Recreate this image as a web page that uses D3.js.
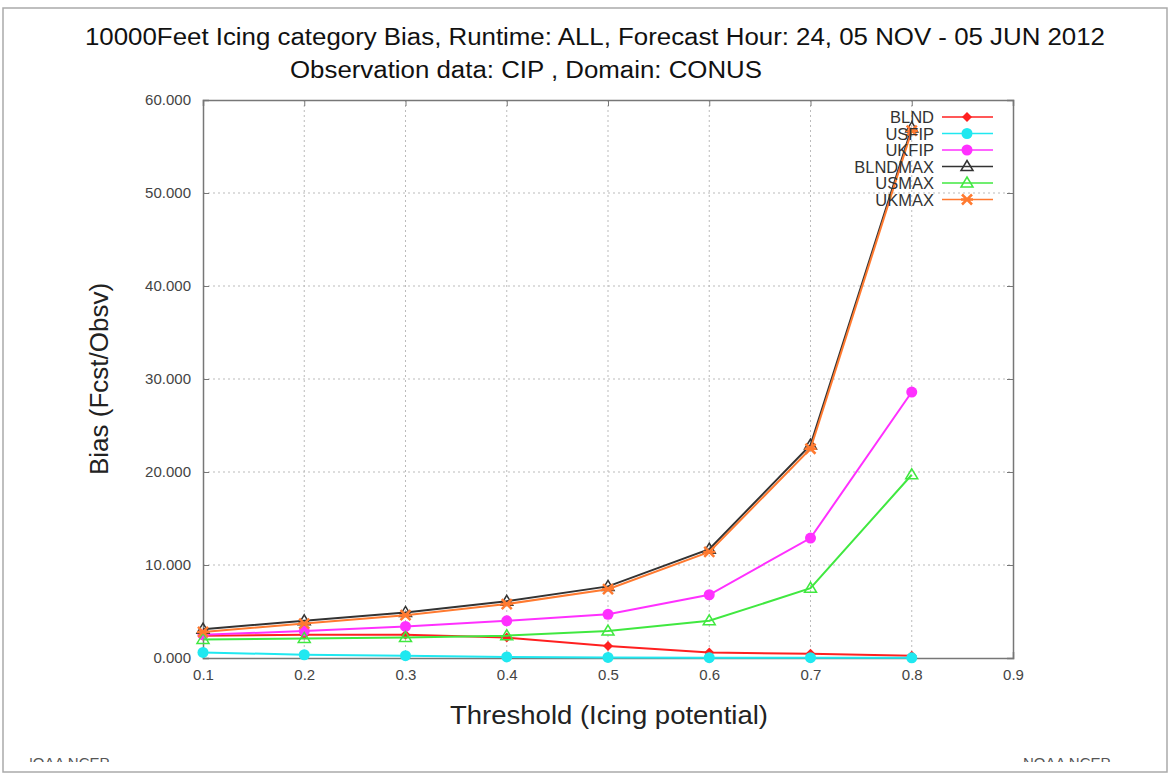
<!DOCTYPE html>
<html>
<head>
<meta charset="utf-8">
<script src="https://cdn.jsdelivr.net/npm/d3@7"></script>
<style>
  body { margin: 0; background: #fff; }
  text { font-family: "Liberation Sans", Arial, sans-serif; }
</style>
</head>
<body>
<div id="chart"></div>
<script>
// Thresholds (x values)
var thresholds = [0.1, 0.2, 0.3, 0.4, 0.5, 0.6, 0.7, 0.8];

// Series values
var blnd    = [2.4, 2.5, 2.5, 2.2, 1.3, 0.6, 0.45, 0.25];
var usfip   = [0.6, 0.35, 0.25, 0.12, 0.06, 0.04, 0.03, 0.02];
var ukfip   = [2.5, 2.9, 3.4, 4.0, 4.7, 6.8, 12.9, 28.6];
var blndmax = [3.1, 4.0, 4.9, 6.1, 7.7, 11.7, 22.9, 57.0];
var usmax   = [2.0, 2.1, 2.2, 2.4, 2.9, 4.0, 7.5, 19.7];
var ukmax   = [2.8, 3.7, 4.6, 5.8, 7.4, 11.4, 22.5, 56.7];

var seriesNames = ["BLND", "USFIP", "UKFIP", "BLNDMAX", "USMAX", "UKMAX"];
var seriesColors = ["#ff2020", "#20e8f0", "#ff30ff", "#333333", "#40e840", "#ff7a30"];
var seriesMarkers = ["diamond", "circle", "circle", "triangle", "triangle", "cross"];

var xTicks = [0.1, 0.2, 0.3, 0.4, 0.5, 0.6, 0.7, 0.8, 0.9];
var yTicks = [0, 10, 20, 30, 40, 50, 60];

var svgWidth = 1172;
var svgHeight = 776;

var margin = { top: 100, right: 159, bottom: 118, left: 203 };
var chartWidth = svgWidth - margin.left - margin.right;
var chartHeight = svgHeight - margin.top - margin.bottom;

var svg = d3.select("#chart")
  .append("svg")
  .attr("width", svgWidth)
  .attr("height", svgHeight);

// page frame
svg.append("rect")
  .attr("x", 3).attr("y", 8)
  .attr("width", 1164).attr("height", 764)
  .attr("fill", "none")
  .attr("stroke", "#aaa")
  .attr("stroke-width", 1.5);

var xScale = d3.scaleLinear().domain([0.1, 0.9]).range([0, chartWidth]);
var yScale = d3.scaleLinear().domain([0, 60]).range([chartHeight, 0]);

var chartGroup = svg.append("g")
  .attr("transform", `translate(${margin.left}, ${margin.top})`);

// grid
chartGroup.append("g")
  .selectAll("line.vgrid")
  .data(xTicks.slice(1, -1))
  .enter().append("line")
  .attr("x1", d => xScale(d)).attr("x2", d => xScale(d))
  .attr("y1", 0).attr("y2", chartHeight)
  .attr("stroke", "#bbb").attr("stroke-dasharray", "2,3");

chartGroup.append("g")
  .selectAll("line.hgrid")
  .data(yTicks.slice(1, -1))
  .enter().append("line")
  .attr("x1", 0).attr("x2", chartWidth)
  .attr("y1", d => yScale(d)).attr("y2", d => yScale(d))
  .attr("stroke", "#bbb").attr("stroke-dasharray", "2,3");

// axes
var bottomAxis = d3.axisBottom(xScale).tickValues(xTicks).tickFormat(d3.format(".1f")).tickSize(-6).tickPadding(11);
var leftAxis = d3.axisLeft(yScale).tickValues(yTicks).tickFormat(d3.format(".3f")).tickSize(-6).tickPadding(12);
var rightAxis = d3.axisRight(yScale).tickValues(yTicks).tickFormat("").tickSize(-6);
var topAxis = d3.axisTop(xScale).tickValues(xTicks).tickFormat("").tickSize(-6);

var gx = chartGroup.append("g").attr("transform", `translate(0, ${chartHeight})`).call(bottomAxis);
var gy = chartGroup.append("g").call(leftAxis);
var gr = chartGroup.append("g").attr("transform", `translate(${chartWidth}, 0)`).call(rightAxis);
var gt = chartGroup.append("g").call(topAxis);

[gx, gy, gr, gt].forEach(g => {
  g.select(".domain").attr("stroke", "#777").attr("stroke-width", 1.5);
  g.selectAll(".tick line").attr("stroke", "#777");
  g.selectAll(".tick text").attr("fill", "#444").attr("font-size", "15px")
    .attr("font-family", "Liberation Sans, Arial, sans-serif");
});

// marker drawing helper
function drawMarker(g, type, x, y, color) {
  if (type === "circle") {
    g.append("circle").attr("cx", x).attr("cy", y).attr("r", 5.5).attr("fill", color);
  } else if (type === "diamond") {
    g.append("path").attr("d", `M${x},${y - 5}L${x + 5},${y}L${x},${y + 5}L${x - 5},${y}Z`).attr("fill", color);
  } else if (type === "triangle") {
    g.append("path").attr("d", `M${x},${y - 6}L${x + 6},${y + 4}L${x - 6},${y + 4}Z`)
      .attr("fill", "none").attr("stroke", color).attr("stroke-width", 1.5);
  } else if (type === "cross") {
    g.append("path").attr("d", `M${x - 5},${y - 5}L${x + 5},${y + 5}M${x - 5},${y + 5}L${x + 5},${y - 5}M${x - 6},${y}L${x + 6},${y}`)
      .attr("stroke", color).attr("stroke-width", 2.5);
  }
}

var allSeries = [blnd, usfip, ukfip, blndmax, usmax, ukmax];

var line = d3.line()
  .x((d, i) => xScale(thresholds[i]))
  .y(d => yScale(d));

allSeries.forEach((values, s) => {
  var g = chartGroup.append("g");
  g.append("path")
    .attr("d", line(values))
    .attr("fill", "none")
    .attr("stroke", seriesColors[s])
    .attr("stroke-width", 2);
  values.forEach((v, i) => drawMarker(g, seriesMarkers[s], xScale(thresholds[i]), yScale(v), seriesColors[s]));
});

// legend
var legend = chartGroup.append("g").attr("transform", "translate(0, 17)");
seriesNames.forEach((name, i) => {
  var y = i * 16.5;
  legend.append("text")
    .attr("x", 731).attr("y", y + 6)
    .attr("text-anchor", "end")
    .attr("font-size", "16.5px")
    .attr("fill", "#333")
    .text(name);
  legend.append("line")
    .attr("x1", 739).attr("x2", 790)
    .attr("y1", y).attr("y2", y)
    .attr("stroke", seriesColors[i]).attr("stroke-width", 1.5);
  drawMarker(legend, seriesMarkers[i], 764, y, seriesColors[i]);
});

// titles
svg.append("text")
  .attr("x", 85).attr("y", 45)
  .attr("font-size", "23px")
  .attr("fill", "#111")
  .attr("textLength", 1020)
  .attr("lengthAdjust", "spacingAndGlyphs")
  .text("10000Feet Icing category Bias, Runtime: ALL, Forecast Hour: 24, 05 NOV - 05 JUN 2012");

svg.append("text")
  .attr("x", 290).attr("y", 78)
  .attr("font-size", "23px")
  .attr("fill", "#111")
  .attr("textLength", 472)
  .attr("lengthAdjust", "spacingAndGlyphs")
  .text("Observation data: CIP , Domain: CONUS");

svg.append("text")
  .attr("transform", `translate(108, ${margin.top + chartHeight / 2}) rotate(-90)`)
  .attr("text-anchor", "middle")
  .attr("font-size", "26px")
  .attr("fill", "#222")
  .text("Bias (Fcst/Obsv)");

svg.append("text")
  .attr("x", 450).attr("y", 724)
  .attr("font-size", "26px")
  .attr("fill", "#222")
  .attr("textLength", 318)
  .attr("lengthAdjust", "spacingAndGlyphs")
  .text("Threshold (Icing potential)");

// clipped footer text
svg.append("clipPath").attr("id", "foot")
  .append("rect").attr("x", 28).attr("y", 740).attr("width", 1100).attr("height", 22);

svg.append("text")
  .attr("clip-path", "url(#foot)")
  .attr("x", 22).attr("y", 768)
  .attr("font-size", "15px")
  .attr("fill", "#555")
  .text("NOAA NCEP");

svg.append("text")
  .attr("clip-path", "url(#foot)")
  .attr("x", 1023).attr("y", 768)
  .attr("font-size", "15px")
  .attr("fill", "#555")
  .text("NOAA NCEP");
</script>
</body>
</html>
